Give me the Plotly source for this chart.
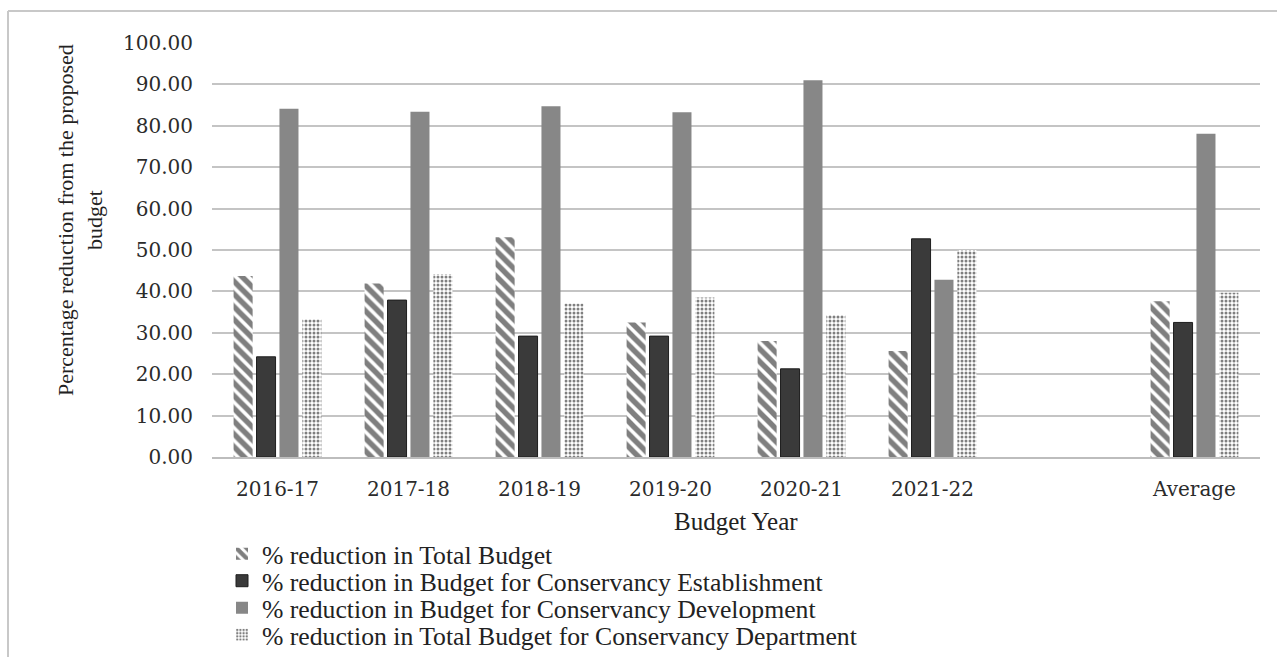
import plotly.graph_objects as go

categories = ["2016-17", "2017-18", "2018-19", "2019-20", "2020-21", "2021-22", " ", "Average"]
total_budget = [43.7, 41.9, 53.1, 32.5, 28.0, 25.6, None, 37.6]
establishment = [24.2, 37.9, 29.2, 29.2, 21.3, 52.7, None, 32.5]
development = [84.1, 83.4, 84.7, 83.3, 91.0, 42.8, None, 78.1]
department = [33.3, 44.2, 37.1, 38.5, 34.3, 50.0, None, 39.7]
series_names = [
    "% reduction in Total Budget",
    "% reduction in Budget for Conservancy Establishment",
    "% reduction in Budget for Conservancy Development",
    "% reduction in Total Budget for Conservancy Department",
]
y_ticks = [0, 10, 20, 30, 40, 50, 60, 70, 80, 90, 100]

W, H = 1277, 657
L, R, T, B = 212, 1260, 43, 457
pw, ph = R - L, B - T

def px(x):
    return (x - L) / pw

def py(y):
    return (B - y) / ph

serif = "Liberation Serif, Times New Roman, serif"
tickfont = dict(family="DejaVu Serif, serif", size=20, color="#2b2b2b")

fig = go.Figure()
fig.add_trace(go.Bar(
    x=categories, y=total_budget, name=series_names[0], legend="legend",
    marker=dict(color="white", line=dict(width=0),
                pattern=dict(shape="\\", fgcolor="black", bgcolor="white", size=9, solidity=0.6)),
))
fig.add_trace(go.Bar(
    x=categories, y=establishment, name=series_names[1], legend="legend2",
    marker=dict(color="#3a3a3a", line=dict(width=1, color="#1e1e1e")),
))
fig.add_trace(go.Bar(
    x=categories, y=development, name=series_names[2], legend="legend3",
    marker=dict(color="#878787", line=dict(width=0)),
))
fig.add_trace(go.Bar(
    x=categories, y=department, name=series_names[3], legend="legend4",
    marker=dict(color="white", line=dict(width=0),
                pattern=dict(shape=".", fgcolor="black", bgcolor="white", size=4, solidity=0.45)),
))

legend_rows = [554, 581, 608, 635]
leg_common = dict(
    xref="container", yref="container",
    x=222 / W, xanchor="left", yanchor="middle", bgcolor="rgba(0,0,0,0)",
    font=dict(family=serif, size=25.7, color="#222222"), borderwidth=0,
    itemwidth=30,
)
layout_legends = {}
for i, yy in enumerate(legend_rows):
    key = "legend" if i == 0 else f"legend{i+1}"
    layout_legends[key] = dict(leg_common, y=1 - yy / H)

fig.update_layout(
    width=W, height=H,
    margin=dict(l=L, r=W - R, t=T, b=H - B, pad=0, autoexpand=False),
    paper_bgcolor="white", plot_bgcolor="white",
    barmode="group", bargap=0.30, bargroupgap=0.17,
    showlegend=True,
    **layout_legends,
    xaxis=dict(
        type="category", categoryorder="array", categoryarray=categories,
        tickfont=tickfont, showgrid=False, showline=True, linecolor="#bdbdbd", linewidth=2,
        ticks="", ticklabelstandoff=13, fixedrange=True,
    ),
    yaxis=dict(
        range=[0, 100], tickvals=y_ticks, ticktext=[f"{v:.2f}" for v in y_ticks],
        tickfont=tickfont, showgrid=True, gridcolor="#c4c4c4", gridwidth=2,
        zeroline=False, showline=False, ticks="", ticklabelstandoff=18,
    ),
    shapes=[
        dict(type="line", xref="paper", yref="paper", x0=px(8), x1=px(8), y0=py(11), y1=py(660),
             line=dict(color="#c8c8c8", width=2)),
        dict(type="line", xref="paper", yref="paper", x0=px(8), x1=px(1280), y0=py(11), y1=py(11),
             line=dict(color="#c8c8c8", width=2)),
    ],
    annotations=[
        dict(text="Percentage reduction from the proposed<br>budget", textangle=-90,
             xref="paper", yref="paper", x=px(80), y=py(220), xanchor="center", yanchor="middle",
             showarrow=False, font=dict(family=serif, size=22, color="#222222")),
        dict(text="Budget Year", xref="paper", yref="paper", x=px(736), y=py(521),
             xanchor="center", yanchor="middle", showarrow=False,
             font=dict(family=serif, size=25, color="#222222")),
    ],
)

fig.write_html("out.html")
